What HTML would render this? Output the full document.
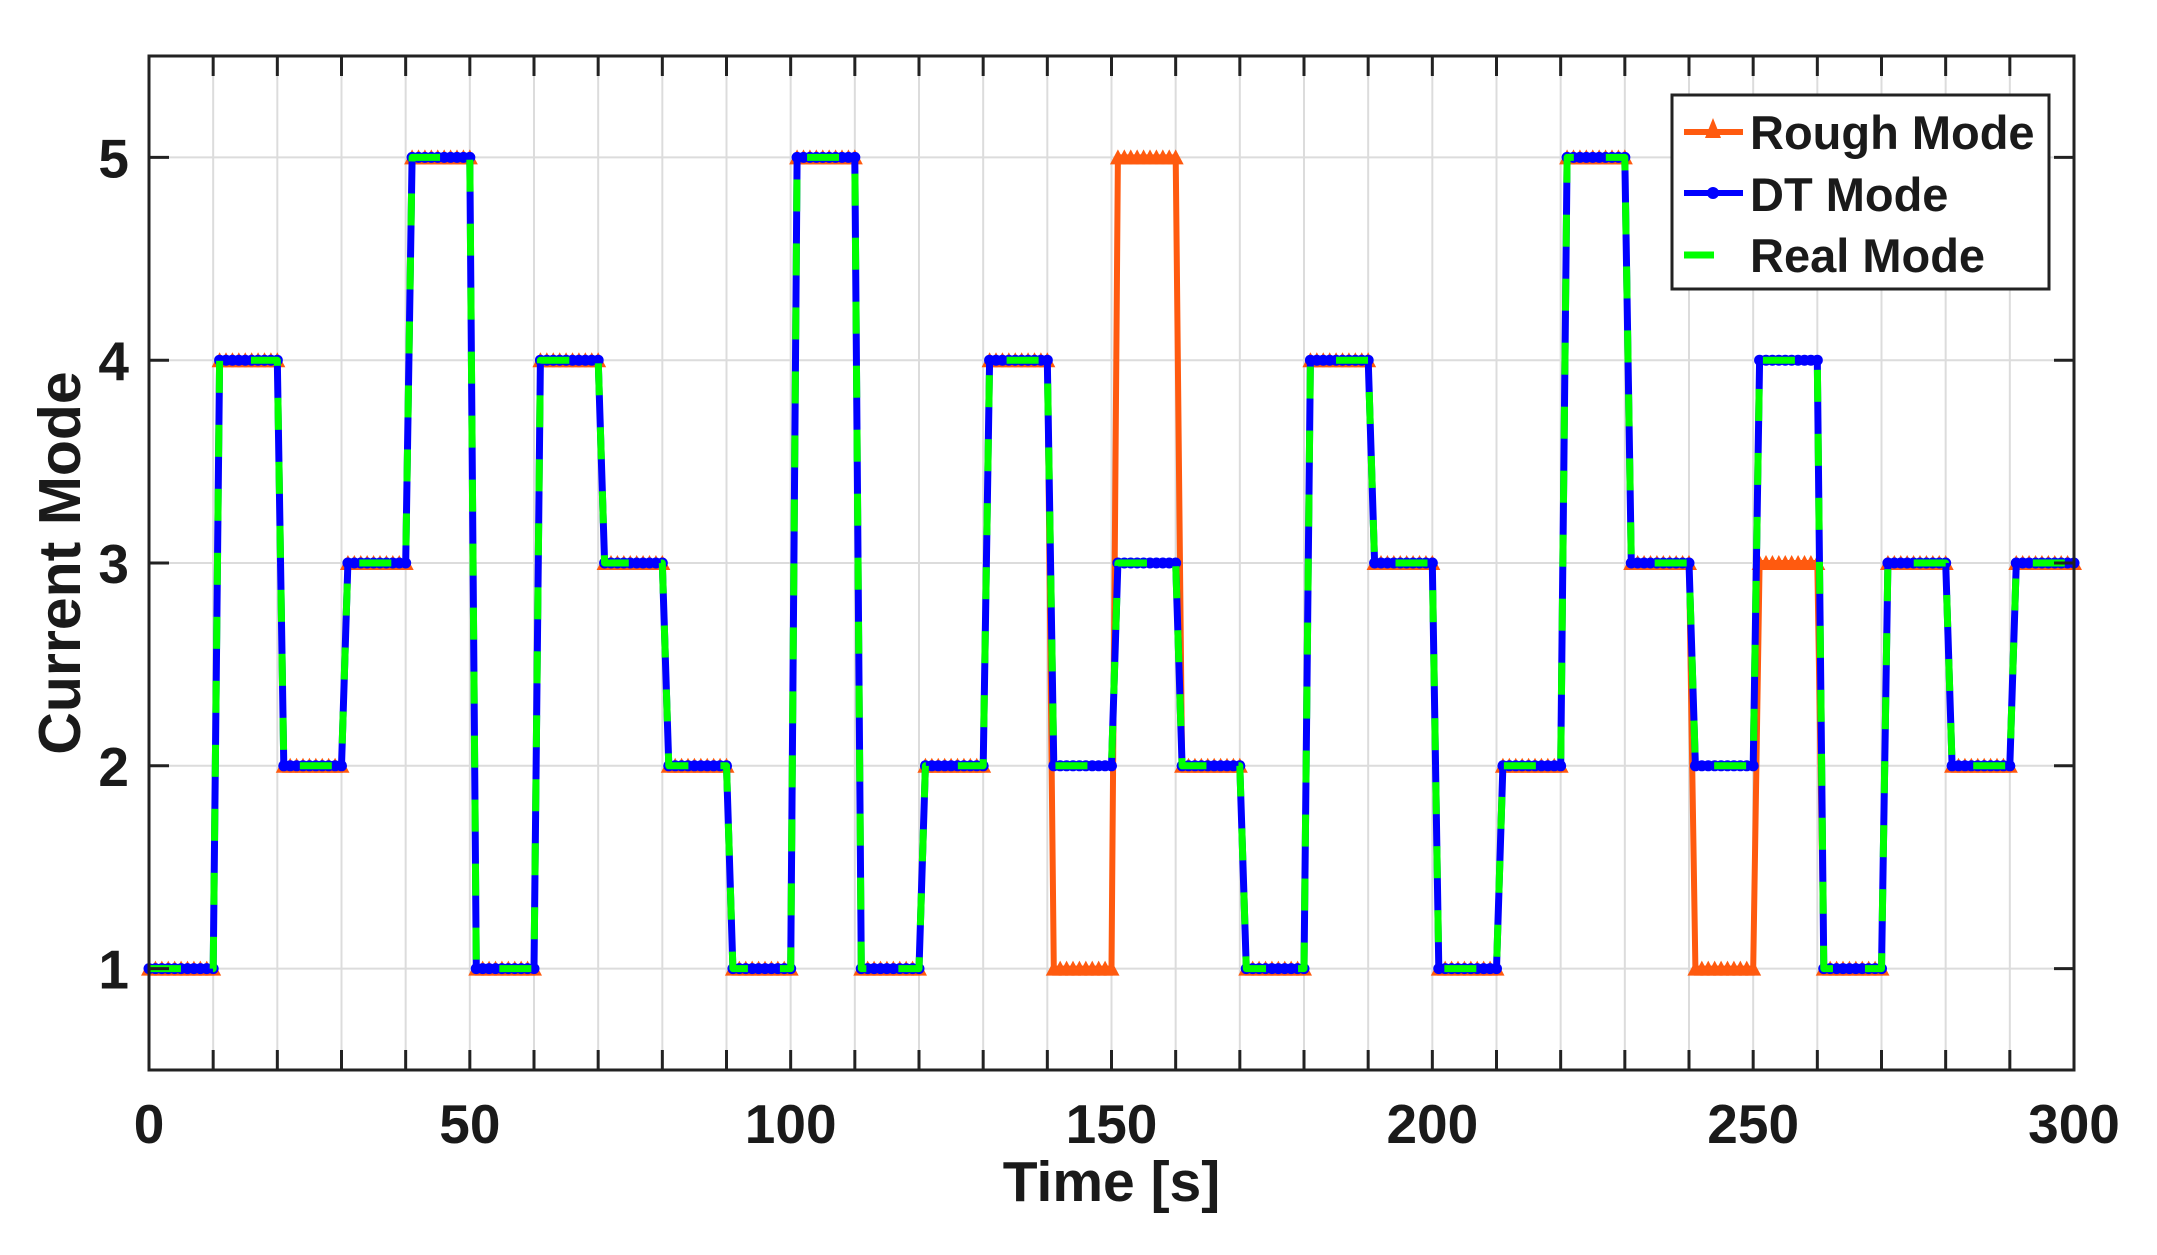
<!DOCTYPE html>
<html><head><meta charset="utf-8"><style>
html,body{margin:0;padding:0;background:#fff;}
svg{display:block;}
text{font-family:"Liberation Sans",Arial,sans-serif;font-weight:bold;fill:#1a1a1a;}
</style></head><body>
<svg id="s" width="2157" height="1255" viewBox="0 0 2157 1255" xmlns="http://www.w3.org/2000/svg"></svg>
<script>
const L=149,R=2074,T=56,B=1070;
const X=t=>L+(t)*(R-L)/300;
const Y=v=>B-(v-0.5)*(B-T)/5;
const dt=[1,4,2,3,5,1,4,3,2,1,5,1,2,4,2,3,2,1,4,3,1,2,5,3,2,4,1,3,2,3];
const rough=dt.slice();rough[14]=1;rough[15]=5;rough[24]=1;rough[25]=3;
function val(arr,t){if(t===0)return arr[0];return arr[Math.min(29,Math.ceil(t/10)-1)];}
let h='';
for(let i=1;i<30;i++){h+=`<line x1="${X(i*10)}" y1="${T}" x2="${X(i*10)}" y2="${B}" stroke="#dcdcdc" stroke-width="2"/>`;}
for(let v=1;v<=5;v++){h+=`<line x1="${L}" y1="${Y(v)}" x2="${R}" y2="${Y(v)}" stroke="#dcdcdc" stroke-width="2"/>`;}
function pts(arr){let p=[];for(let t=0;t<=300;t++)p.push(X(t).toFixed(1)+','+Y(val(arr,t)).toFixed(1));return p;}
const pr=pts(rough),pd=pts(dt);
h+=`<polyline points="${pr.join(' ')}" fill="none" stroke="#ff5a0f" stroke-width="6" stroke-linejoin="round"/>`;
for(let t=0;t<=300;t++){const x=X(t),y=Y(val(rough,t));h+=`<path d="M${x-8},${y+7}L${x},${y-8}L${x+8},${y+7}Z" fill="#ff5a0f"/>`;}
h+=`<polyline points="${pd.join(' ')}" fill="none" stroke="#0000ff" stroke-width="7" stroke-linejoin="round"/>`;
for(let t=0;t<=300;t++){h+=`<circle cx="${X(t)}" cy="${Y(val(dt,t))}" r="5.5" fill="#0000ff"/>`;}
h+=`<polyline points="${pd.join(' ')}" fill="none" stroke="#00ff00" stroke-width="7" stroke-dasharray="32 32" stroke-linejoin="round"/>`;
h+=`<rect x="${L}" y="${T}" width="${R-L}" height="${B-T}" fill="none" stroke="#222" stroke-width="3"/>`;
for(let i=1;i<30;i++){const x=X(i*10);h+=`<line x1="${x}" y1="${B}" x2="${x}" y2="${B-20}" stroke="#222" stroke-width="3"/><line x1="${x}" y1="${T}" x2="${x}" y2="${T+20}" stroke="#222" stroke-width="3"/>`;}
for(let v=1;v<=5;v++){const y=Y(v);h+=`<line x1="${L}" y1="${y}" x2="${L+20}" y2="${y}" stroke="#222" stroke-width="3"/><line x1="${R}" y1="${y}" x2="${R-20}" y2="${y}" stroke="#222" stroke-width="3"/>`;
h+=`<text x="${L-20}" y="${y+20}" font-size="55" text-anchor="end">${v}</text>`;}
for(let i=0;i<=6;i++){h+=`<text x="${X(i*50)}" y="1143" font-size="55" text-anchor="middle">${i*50}</text>`;}
h+=`<text x="${(L+R)/2}" y="1201" font-size="57" text-anchor="middle">Time [s]</text>`;
h+=`<text transform="translate(80,563) rotate(-90)" font-size="59" text-anchor="middle">Current Mode</text>`;
h+=`<rect x="1672" y="95" width="377" height="194" fill="#fff" stroke="#222" stroke-width="3"/>`;
h+=`<line x1="1684" y1="132" x2="1743" y2="132" stroke="#ff5a0f" stroke-width="6"/><path d="M1705,138L1713,118L1721,138Z" fill="#ff5a0f"/>`;
h+=`<line x1="1684" y1="193" x2="1743" y2="193" stroke="#0000ff" stroke-width="6"/><circle cx="1713" cy="193" r="6" fill="#0000ff"/>`;
h+=`<line x1="1684" y1="255" x2="1714" y2="255" stroke="#00ff00" stroke-width="7"/>`;
h+=`<text x="1750" y="149" font-size="47">Rough Mode</text>`;
h+=`<text x="1750" y="211" font-size="47">DT Mode</text>`;
h+=`<text x="1750" y="272" font-size="47">Real Mode</text>`;
document.getElementById('s').innerHTML=h;
</script>
</body></html>
